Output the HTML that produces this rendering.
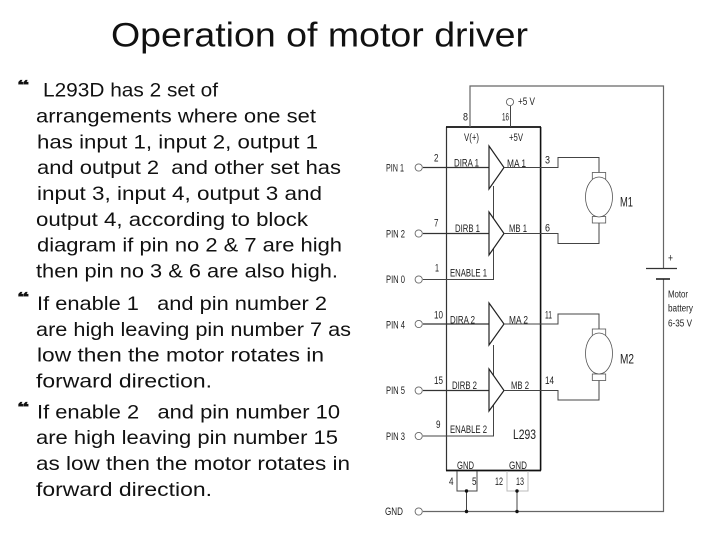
<!DOCTYPE html>
<html><head><meta charset="utf-8"><style>
html,body{margin:0;padding:0;background:#fff;width:720px;height:540px;overflow:hidden}
svg{display:block}
text{font-family:"Liberation Sans",sans-serif;white-space:pre}
.t{font-size:19.5px;fill:#111}
.q{font-family:"DejaVu Sans",sans-serif;font-size:13px;fill:#111;stroke:#111;stroke-width:.3}
.d text{font-size:11px;fill:#222}
.d{filter:blur(.35px)}
.w{fill:none;stroke:#444;stroke-width:1}
.k{fill:none;stroke:#333;stroke-width:1.2}
.o{fill:#fff;stroke:#666;stroke-width:.9}
</style></head><body>
<svg width="720" height="540" viewBox="0 0 720 540" xmlns="http://www.w3.org/2000/svg" xml:space="preserve">
<text x="111" y="46.5" font-size="34" fill="#111" textLength="417" lengthAdjust="spacingAndGlyphs">Operation of motor driver</text>
<text class="q" x="16.5" y="89.5" textLength="13" lengthAdjust="spacingAndGlyphs">❝</text>
<text class="q" x="16.5" y="301.5" textLength="13" lengthAdjust="spacingAndGlyphs">❝</text>
<text class="q" x="16.5" y="411.5" textLength="13" lengthAdjust="spacingAndGlyphs">❝</text>
<g class="b">
<text class="t" x="43" y="96.7" textLength="175" lengthAdjust="spacingAndGlyphs">L293D has 2 set of</text>
<text class="t" x="36" y="122.7" textLength="280" lengthAdjust="spacingAndGlyphs">arrangements where one set</text>
<text class="t" x="37" y="148.3" textLength="281" lengthAdjust="spacingAndGlyphs">has input 1, input 2, output 1</text>
<text class="t" x="37" y="174.2" textLength="304" lengthAdjust="spacingAndGlyphs">and output 2  and other set has</text>
<text class="t" x="37" y="200" textLength="285" lengthAdjust="spacingAndGlyphs">input 3, input 4, output 3 and</text>
<text class="t" x="36" y="225.8" textLength="272" lengthAdjust="spacingAndGlyphs">output 4, according to block</text>
<text class="t" x="37" y="251.7" textLength="305" lengthAdjust="spacingAndGlyphs">diagram if pin no 2 &amp; 7 are high</text>
<text class="t" x="36" y="277.4" textLength="302" lengthAdjust="spacingAndGlyphs">then pin no 3 &amp; 6 are also high.</text>
<text class="t" x="37" y="310" textLength="290" lengthAdjust="spacingAndGlyphs">If enable 1   and pin number 2</text>
<text class="t" x="36" y="336" textLength="315" lengthAdjust="spacingAndGlyphs">are high leaving pin number 7 as</text>
<text class="t" x="37" y="361.7" textLength="287" lengthAdjust="spacingAndGlyphs">low then the motor rotates in</text>
<text class="t" x="36" y="387.4" textLength="176" lengthAdjust="spacingAndGlyphs">forward direction.</text>
<text class="t" x="37" y="418.3" textLength="303" lengthAdjust="spacingAndGlyphs">If enable 2   and pin number 10</text>
<text class="t" x="36" y="444" textLength="302" lengthAdjust="spacingAndGlyphs">are high leaving pin number 15</text>
<text class="t" x="36" y="470" textLength="314" lengthAdjust="spacingAndGlyphs">as low then the motor rotates in</text>
<text class="t" x="36" y="496" textLength="176" lengthAdjust="spacingAndGlyphs">forward direction.</text>
</g>
<g class="d">
<!-- IC -->
<path d="M446.5 127V470.5" stroke="#333" stroke-width="1.2" fill="none"/>
<path d="M540.6 127V470.5" stroke="#111" stroke-width="1.6" fill="none"/>
<path d="M446 127H541M446 470.5H541" stroke="#111" stroke-width="1.8" fill="none"/>
<!-- power -->
<path class="w" d="M470 127V86H663.5V268M663.5 279V511.5H423" style="stroke:#666;stroke-width:1.2"/>
<path class="w" d="M510.5 106V127"/>
<circle class="o" cx="510" cy="102" r="3.6"/>
<path d="M646 268.5H677" stroke="#333" stroke-width="1.2"/>
<path d="M656 279H670" stroke="#222" stroke-width="1.6"/>
<!-- inputs -->
<path class="k" d="M423 167.5H489M423 233.5H489M423 324H489M423 390.5H489"/>
<path class="w" d="M423 279.5H493.5V186M423 436H493.5V345M493.5 251V255M493.5 408V411"/>
<!-- amps -->
<path class="k" d="M489 146L504 167.5L489 189ZM489 212L504 233.5L489 255ZM489 303L504 324L489 345ZM489 369L504 390.5L489 411Z" style="fill:#fff;stroke:#222"/>
<!-- outputs -->
<path class="w" d="M504 167.5H558V157.5H599V172.5"/>
<path class="w" d="M504 233.5H558V243.5H599V223"/>
<path class="w" d="M504 324H558V314H599V329"/>
<path class="w" d="M504 390.5H558V400H599V380"/>
<!-- motors -->
<g fill="#fff" stroke="#555" stroke-width=".8">
<rect x="592.3" y="172.5" width="13.4" height="6.5"/><rect x="592.3" y="216.5" width="13.4" height="6.5"/>
<ellipse cx="599" cy="197" rx="13.5" ry="20"/>
<rect x="592.3" y="329" width="13.4" height="6.5"/><rect x="592.3" y="374" width="13.4" height="6.5"/>
<ellipse cx="599" cy="353.5" rx="13.5" ry="20.5"/>
</g>
<!-- ground -->
<path class="w" d="M457 471V491H477V471"/>
<path d="M507 471V491H528V471" fill="none" stroke="#bbb" stroke-width="1"/>
<path class="w" d="M466.5 491V511.5M517 491V511.5"/>
<g fill="#111"><circle cx="466.5" cy="491" r="1.7"/><circle cx="517" cy="491" r="1.7"/><circle cx="466.5" cy="511.5" r="1.7"/><circle cx="517" cy="511.5" r="1.7"/></g>
<!-- terminals -->
<g class="o" style="fill:#fff"><circle cx="418.7" cy="167.5" r="3.6"/><circle cx="418.7" cy="233.5" r="3.6"/><circle cx="418.7" cy="279.5" r="3.6"/><circle cx="418.7" cy="324" r="3.6"/><circle cx="418.7" cy="390.5" r="3.6"/><circle cx="418.7" cy="436" r="3.6"/><circle cx="418.7" cy="511.5" r="3.6"/></g>
<!-- labels -->
<text x="386" y="171.7" textLength="18" lengthAdjust="spacingAndGlyphs">PIN 1</text>
<text x="386" y="237.5" textLength="19" lengthAdjust="spacingAndGlyphs">PIN 2</text>
<text x="386" y="283" textLength="19" lengthAdjust="spacingAndGlyphs">PIN 0</text>
<text x="386" y="328.3" textLength="19" lengthAdjust="spacingAndGlyphs">PIN 4</text>
<text x="386" y="394" textLength="19" lengthAdjust="spacingAndGlyphs">PIN 5</text>
<text x="386" y="440" textLength="19" lengthAdjust="spacingAndGlyphs">PIN 3</text>
<text x="385" y="515" textLength="18" lengthAdjust="spacingAndGlyphs">GND</text>
<text x="463" y="120.7" textLength="5" lengthAdjust="spacingAndGlyphs">8</text>
<text x="502" y="120.7" textLength="7" lengthAdjust="spacingAndGlyphs">16</text>
<text x="518" y="105" textLength="17" lengthAdjust="spacingAndGlyphs">+5 V</text>
<text x="464" y="141" textLength="15" lengthAdjust="spacingAndGlyphs">V(+)</text>
<text x="509" y="141" textLength="14" lengthAdjust="spacingAndGlyphs">+5V</text>
<text x="434" y="161.7" textLength="4.5" lengthAdjust="spacingAndGlyphs">2</text>
<text x="434" y="226.7" textLength="4.5" lengthAdjust="spacingAndGlyphs">7</text>
<text x="435" y="271.7" textLength="4" lengthAdjust="spacingAndGlyphs">1</text>
<text x="434" y="318.3" textLength="9" lengthAdjust="spacingAndGlyphs">10</text>
<text x="434" y="384" textLength="9" lengthAdjust="spacingAndGlyphs">15</text>
<text x="436" y="428" textLength="4.5" lengthAdjust="spacingAndGlyphs">9</text>
<text x="454" y="166.7" textLength="25" lengthAdjust="spacingAndGlyphs">DIRA 1</text>
<text x="455" y="232" textLength="25" lengthAdjust="spacingAndGlyphs">DIRB 1</text>
<text x="450" y="276.7" textLength="37" lengthAdjust="spacingAndGlyphs">ENABLE 1</text>
<text x="450" y="323.3" textLength="25" lengthAdjust="spacingAndGlyphs">DIRA 2</text>
<text x="452" y="389" textLength="25" lengthAdjust="spacingAndGlyphs">DIRB 2</text>
<text x="450" y="433" textLength="37" lengthAdjust="spacingAndGlyphs">ENABLE 2</text>
<text x="507" y="167" textLength="19" lengthAdjust="spacingAndGlyphs">MA 1</text>
<text x="509" y="232" textLength="18" lengthAdjust="spacingAndGlyphs">MB 1</text>
<text x="509" y="323.3" textLength="19" lengthAdjust="spacingAndGlyphs">MA 2</text>
<text x="511" y="389" textLength="18" lengthAdjust="spacingAndGlyphs">MB 2</text>
<text x="545" y="163.3" textLength="5" lengthAdjust="spacingAndGlyphs">3</text>
<text x="545" y="231.7" textLength="5" lengthAdjust="spacingAndGlyphs">6</text>
<text x="545" y="318.3" textLength="7" lengthAdjust="spacingAndGlyphs">11</text>
<text x="545" y="384" textLength="9" lengthAdjust="spacingAndGlyphs">14</text>
<text x="513" y="439" textLength="23" lengthAdjust="spacingAndGlyphs" style="font-size:14px">L293</text>
<text x="457" y="469" textLength="17" lengthAdjust="spacingAndGlyphs">GND</text>
<text x="509" y="469" textLength="18" lengthAdjust="spacingAndGlyphs">GND</text>
<text x="449" y="485" textLength="4.5" lengthAdjust="spacingAndGlyphs">4</text>
<text x="472" y="485" textLength="4.5" lengthAdjust="spacingAndGlyphs">5</text>
<text x="495" y="485" textLength="8" lengthAdjust="spacingAndGlyphs">12</text>
<text x="516" y="485" textLength="8" lengthAdjust="spacingAndGlyphs">13</text>
<text x="620" y="206.7" textLength="13" lengthAdjust="spacingAndGlyphs" style="font-size:14px">M1</text>
<text x="620" y="363.3" textLength="14" lengthAdjust="spacingAndGlyphs" style="font-size:14px">M2</text>
<text x="668" y="261.7" textLength="5" lengthAdjust="spacingAndGlyphs">+</text>
<text x="668" y="297.7" textLength="20" lengthAdjust="spacingAndGlyphs" style="font-size:10px">Motor</text>
<text x="668" y="311.7" textLength="25" lengthAdjust="spacingAndGlyphs" style="font-size:10px">battery</text>
<text x="668" y="326.7" textLength="24" lengthAdjust="spacingAndGlyphs" style="font-size:10px">6-35 V</text>
</g>
</svg>
</body></html>
